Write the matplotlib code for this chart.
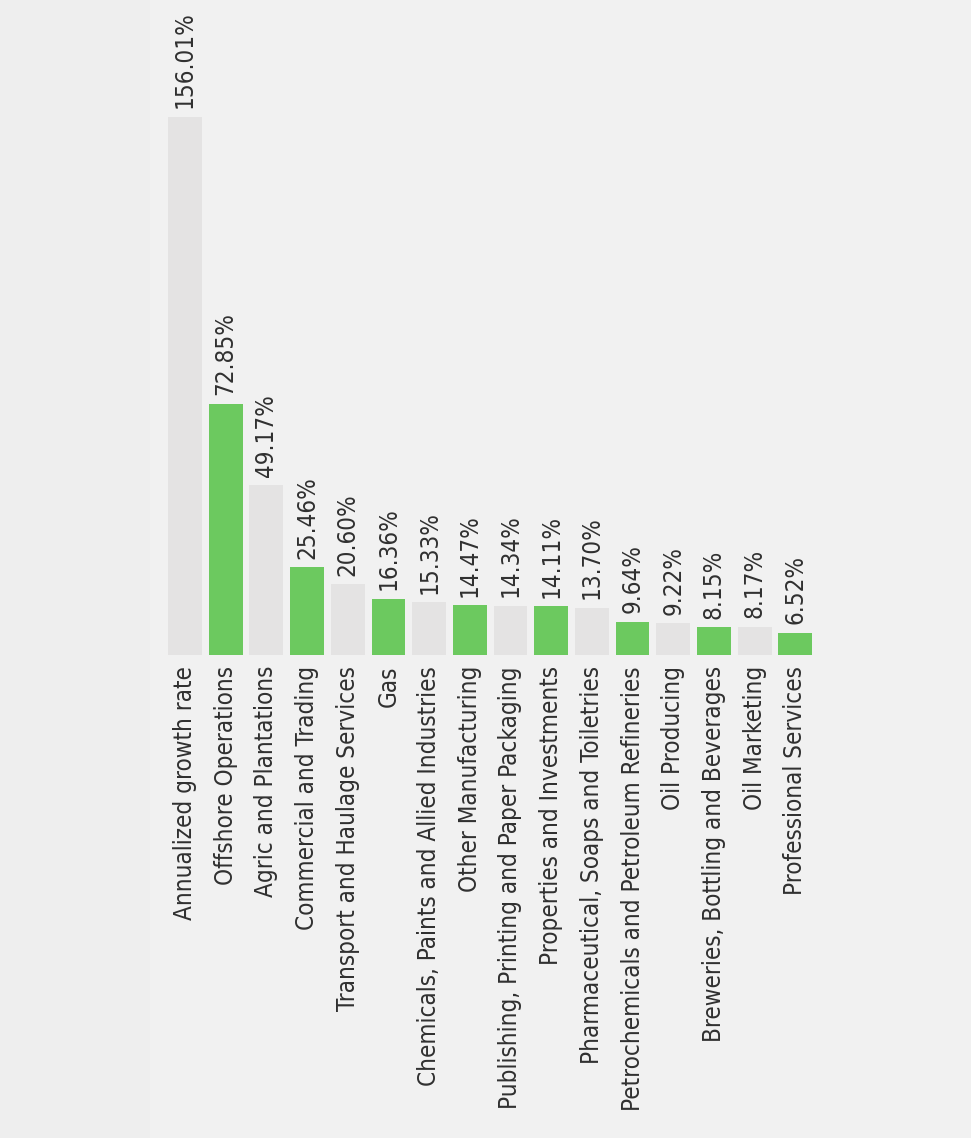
import matplotlib
matplotlib.use("Agg")
import matplotlib.pyplot as plt
from matplotlib.font_manager import FontProperties

categories = [
    "Annualized growth rate",
    "Offshore Operations",
    "Agric and Plantations",
    "Commercial and Trading",
    "Transport and Haulage Services",
    "Gas",
    "Chemicals, Paints and Allied Industries",
    "Other Manufacturing",
    "Publishing, Printing and Paper Packaging",
    "Properties and Investments",
    "Pharmaceutical, Soaps and Toiletries",
    "Petrochemicals and Petroleum Refineries",
    "Oil Producing",
    "Breweries, Bottling and Beverages",
    "Oil Marketing",
    "Professional Services",
]
values = [156.01, 72.85, 49.17, 25.46, 20.60, 16.36, 15.33, 14.47,
          14.34, 14.11, 13.70, 9.64, 9.22, 8.15, 8.17, 6.52]
value_labels = ["156.01%", "72.85%", "49.17%", "25.46%", "20.60%", "16.36%",
                "15.33%", "14.47%", "14.34%", "14.11%", "13.70%", "9.64%",
                "9.22%", "8.15%", "8.17%", "6.52%"]

GREEN = "#6cc95f"
GREY = "#e4e3e3"
BG = "#f1f1f1"
colors = [GREY if i % 2 == 0 else GREEN for i in range(len(values))]

W, H = 971, 1138
fig = plt.figure(figsize=(W / 100, H / 100), dpi=100)
fig.patch.set_facecolor(BG)
fig.patches.append(plt.Rectangle((0, 0), 150 / W, 1, transform=fig.transFigure,
                                 facecolor="#eeeeee", edgecolor="none", zorder=0))

fp = FontProperties(family="DejaVu Sans", stretch="condensed", size=17.4)

left_px = 185 - 20.35
ax = fig.add_axes([left_px / W, (H - 655) / H, 651 / W, 603.75 / H])
ax.set_facecolor("none")
x = list(range(len(values)))
ax.bar(x, values, width=0.83, color=colors, zorder=2)
ax.set_xlim(-0.5, 15.5)
ax.set_ylim(0, 175)
for s in ax.spines.values():
    s.set_visible(False)
ax.set_yticks([])
ax.set_xticks(x)
ax.set_xticklabels(categories, rotation=90, fontproperties=fp, color="#303030")
ax.tick_params(axis="x", length=0, pad=8)

for xi, v, lab in zip(x, values, value_labels):
    ax.annotate(lab, (xi, v), xytext=(0, 6), textcoords="offset points",
                rotation=90, ha="center", va="bottom", fontproperties=fp,
                color="#303030", annotation_clip=False)

fig.savefig("out.png", dpi=100, facecolor=BG)
